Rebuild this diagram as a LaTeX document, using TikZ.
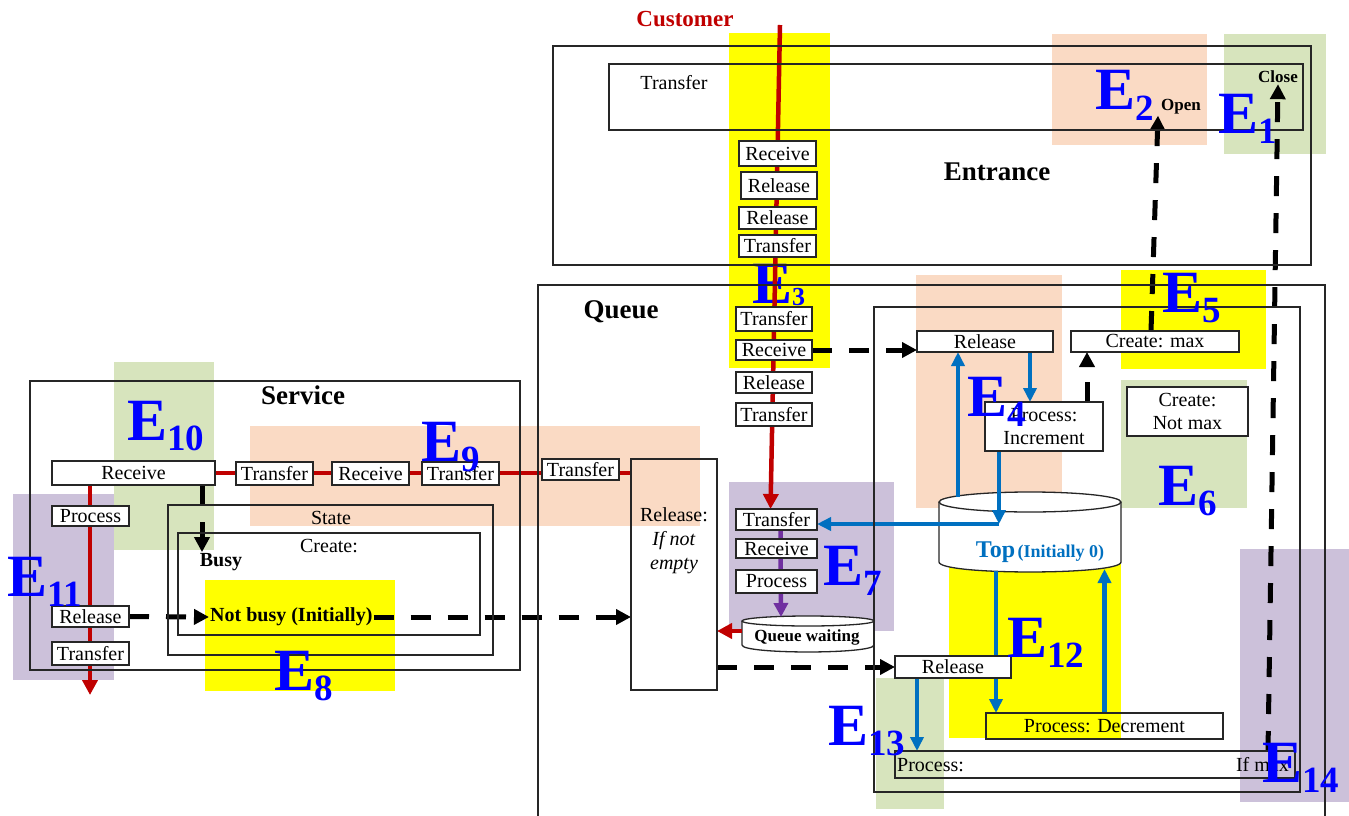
\documentclass[tikz,border=0pt]{standalone}
\usepackage{fontspec}
\setmainfont{Liberation Serif}
\usetikzlibrary{arrows.meta,fit,calc}
\pgfdeclarelayer{back}
\pgfdeclarelayer{mid}
\pgfsetlayers{back,mid,main}
\definecolor{peach}{RGB}{250,218,196}
\definecolor{lgreen}{RGB}{215,228,189}
\definecolor{lpurple}{RGB}{204,193,218}
\definecolor{lyellow}{RGB}{255,255,0}
\definecolor{lred}{RGB}{192,0,0}
\definecolor{lblue}{RGB}{0,112,192}
\definecolor{lpurp}{RGB}{112,48,160}
\definecolor{eblue}{RGB}{0,0,255}
\newcommand{\Elab}[1]{{\fontsize{60}{60}\selectfont E}\raisebox{-10pt}{\fontsize{37}{37}\selectfont #1}}
% box node from its corners: [style]{name}{x1}{y1}{x2}{y2}{text}
\newcommand{\bxn}[7][bx]{\node[#1, minimum width={(#5-#3)*1pt}, minimum height={(#6-#4)*1pt}] (#2) at ({(#3+#5)/2},{(#4+#6)/2}) {#7};}
\tikzset{
  bx/.style={draw=black!85, line width=1.3pt, fill=white, inner sep=0pt, outer sep=0pt, align=center, font=\fontsize{20}{23}\selectfont},
  cont/.style={draw=black!85, line width=1.3pt, inner sep=0pt, outer sep=0pt, align=center, font=\fontsize{20}{23}\selectfont},
  txt/.style={inner sep=1pt, font=\fontsize{20}{23}\selectfont},
  btxt/.style={inner sep=1pt, font=\bfseries\fontsize{27}{29}\selectfont},
  stxt/.style={inner sep=1pt, font=\bfseries\fontsize{17}{19}\selectfont},
  mtxt/.style={inner sep=1pt, font=\bfseries\fontsize{20}{22}\selectfont},
  cyl/.style={draw=black!85, line width=1.3pt},
  redarr/.style={draw=lred, line width=4.5pt, -{Triangle[length=15pt,width=15pt]}},
  bluearr/.style={draw=lblue, line width=4.5pt, -{Triangle[length=14pt,width=13pt]}},
  purarr/.style={draw=lpurp, line width=4.5pt, -{Triangle[length=14pt,width=14pt]}},
  dasharr/.style={draw=black, line width=5pt, dash pattern=on 20pt off 17pt, -{Triangle[length=15pt,width=15pt]}},
  elab/.style={text=eblue, inner sep=0pt, anchor=base west, font=\bfseries},
}
\begin{document}
\begin{tikzpicture}[x=1pt,y=-1pt]
\useasboundingbox (0,0) rectangle (1349,816);
% ---------- coloured event regions ----------
\begin{pgfonlayer}{back}
\fill[peach] (1052,34) rectangle (1207,145);
\fill[peach] (916,275) rectangle (1062,508);
\fill[peach] (250,426) rectangle (700,526);
\fill[lgreen] (1224,34) rectangle (1326,154);
\fill[lgreen] (1121,380) rectangle (1247,508);
\fill[lgreen] (114,362) rectangle (214,550);
\fill[lgreen] (876,678) rectangle (944,809);
\fill[lyellow] (729,33) rectangle (830,368);
\fill[lyellow] (1121,270) rectangle (1266,369);
\fill[lyellow] (205,580) rectangle (395,691);
\fill[lyellow] (949,555) rectangle (1121,738);
\fill[lpurple] (729,482) rectangle (894,631);
\fill[lpurple] (13,494) rectangle (114,680);
\fill[lpurple] (1240,549) rectangle (1349,802);
\end{pgfonlayer}
% ---------- cylinders and the E3 label (under the lines) ----------
\begin{pgfonlayer}{mid}
\fill[white] (939,502) -- (939,562) .. controls (939,575.3) and (1121,575.3) .. (1121,562) -- (1121,502) -- cycle;
\draw[cyl] (939,502) -- (939,562) .. controls (939,575.3) and (1121,575.3) .. (1121,562) -- (1121,502);
\draw[cyl, fill=white] (1030,502) ellipse [x radius=91pt, y radius=10pt];
\fill[white] (742,621) -- (742,645) .. controls (742,654.3) and (874,654.3) .. (874,645) -- (874,621) -- cycle;
\draw[cyl] (742,621) -- (742,645) .. controls (742,654.3) and (874,654.3) .. (874,645) -- (874,621);
\draw[cyl, fill=white] (808,621) ellipse [x radius=66pt, y radius=5pt];
\node[elab] (E3) at (752,303) {{\fontsize{60}{60}\selectfont E}\raisebox{-2pt}{\fontsize{26}{26}\selectfont 3}};
\end{pgfonlayer}
\coordinate (topA) at (958,497);
\coordinate (topB) at (999,524);
\coordinate (topC) at (996,571);
\coordinate (topD) at (1104,569);
\coordinate (qwL) at (742,631);
\coordinate (qwT) at (781,617);
\coordinate (custs) at (780,25);
\coordinate (sout) at (90,695);
\node[inner sep=0pt, font=\bfseries, text=lblue] (toptxt) at (1040,552) {{\fontsize{24}{26}\selectfont Top} {\fontsize{18}{20}\selectfont (Initially 0)}};
\node[stxt] (qwt) at (807,637) {Queue waiting};
% ---------- Entrance ----------
\bxn[cont]{entr}{553}{46}{1311}{265}{}
\bxn[cont]{entrin}{609}{64}{1303}{130}{}
\node[btxt] (entrl) at (997,172) {Entrance};
\node[txt] (ttop) at (674,83) {Transfer};
\node[stxt] (open) at (1181,107) {Open};
\node[stxt] (close) at (1278,77) {Close};
\node[inner sep=1pt, text=lred, font=\bfseries\fontsize{23}{25}\selectfont] (cust) at (685,19) {Customer};
\bxn{a1}{739}{141}{816}{166}{Receive}
\bxn{a2}{741}{172}{817}{199}{Release}
\bxn{a3}{739}{207}{816}{229}{Release}
\bxn{a4}{739}{235}{816}{257}{Transfer}
% ---------- Queue ----------
\bxn[cont]{queue}{538}{285}{1325}{840}{}
\node[btxt] (queuel) at (621,312) {Queue};
\bxn{a5}{736}{307}{812}{331}{Transfer}
\bxn{a6}{736}{340}{812}{360}{Receive}
\bxn{a7}{736}{372}{812}{393}{Release}
\bxn{a8}{736}{403}{812}{426}{Transfer}
\bxn[cont]{qin}{874}{307}{1300}{792}{}
\bxn{rel4}{917}{331}{1053}{352}{Release}
\bxn{cmax}{1071}{331}{1239}{352}{Create: max}
\bxn{cnot}{1127}{387}{1248}{436}{Create:\\Not max}
\bxn{pinc}{985}{402}{1103}{451}{Process:\\Increment}
\bxn[cont]{pdec}{986}{713}{1223}{739}{Process: Decrement}
\bxn{rel13}{895}{656}{1011}{678}{Release}
\bxn[cont]{pmax}{895}{751}{1295}{778}{}
\node[txt, anchor=west] (pmaxa) at (896,765) {Process:};
\node[txt, anchor=east] (pmaxb) at (1290,765) {If max};
\bxn{t7}{736}{509}{817}{530}{Transfer}
\bxn{r7}{736}{539}{817}{558}{Receive}
\bxn{p7}{736}{570}{817}{593}{Process}
\bxn[cont]{relq}{631}{459}{717}{690}{}
\node[txt, align=center, font=\fontsize{20}{24}\selectfont] (relqt) at (674,541) {Release:\\\textit{If not}\\\textit{empty}};
% ---------- Service ----------
\bxn[cont]{serv}{30}{381}{520}{670}{}
\node[btxt] (servl) at (303,395) {Service};
\bxn{srec}{52}{461}{215}{485}{Receive}
\bxn{st1}{236}{462}{313}{485}{Transfer}
\bxn{sr2}{332}{462}{409}{485}{Receive}
\bxn{st3}{422}{462}{499}{485}{Transfer}
\bxn{qt}{542}{459}{619}{480}{Transfer}
\bxn{sproc}{52}{506}{129}{526}{Process}
\bxn{srel}{52}{606}{129}{627}{Release}
\bxn{strn}{52}{642}{129}{665}{Transfer}
\bxn[cont]{state}{168}{505}{493}{655}{}
\node[txt] (statel) at (331,518) {State};
\bxn[cont]{create}{178}{533}{480}{635}{}
\node[txt] (createl) at (329,546) {Create:};
\node[mtxt] (busy) at (221,562) {Busy};
\node[mtxt, anchor=west] (notbusy) at (209,617) {Not busy (Initially)};
% ---------- connectors ----------
\begin{pgfonlayer}{mid}
\draw[redarr] (custs) -- ([xshift=-6pt]t7.north);
\draw[redarr] (qwL) -- (qwL -| relq.east);
\draw[draw=lred, line width=4.5pt] (srec.east) -- (srec.east -| relq.west);
\draw[redarr] ([xshift=38pt]srec.south west) -- (sout);
\draw[purarr] ([xshift=4pt]t7.south) -- (qwT);
\draw[dasharr] (a6.east) -- (a6.east -| rel4.west);
\draw[dasharr] ([xshift=-16pt]pinc.north east) -- ([xshift=-16pt]pinc.north east |- cmax.south);
\draw[dasharr] ([xshift=-4pt]cmax.north) -- ([xshift=-23pt]open.south);
\draw[dasharr] ([xshift=-27pt]pmax.north east) -- (close.south);
\draw[dasharr] (srel.east) -- (notbusy.west);
\draw[dasharr] (notbusy.east) -- (notbusy.east -| relq.west);
\draw[dasharr] ([xshift=-13pt]srec.south east) -- ([xshift=-13pt]srec.south east |- busy.north);
\draw[dasharr] (rel13.west -| relq.east) -- (rel13.west);
\draw[bluearr] (topA) -- (topA |- rel4.south);
\draw[bluearr] ([xshift=45pt]rel4.south) -- ([xshift=45pt]rel4.south |- pinc.north);
\draw[bluearr] ([xshift=-45pt]pinc.south) -- (topB);
\draw[bluearr] (topB) -- (topB -| t7.east);
\draw[bluearr] (topC) -- (topC |- pdec.north);
\draw[bluearr] (pdec.north) -- (pdec.north |- topD);
\draw[bluearr] ([xshift=-36pt]rel13.south) -- ([xshift=-36pt]rel13.south |- pmax.north);
\end{pgfonlayer}
% ---------- event labels ----------
\node[elab] (E1) at (1218,133) {\Elab{1}};
\node[elab] (E2) at (1095,110) {\Elab{2}};
\node[elab] (E4) at (967,416) {\Elab{4}};
\node[elab] (E5) at (1162,312) {\Elab{5}};
\node[elab] (E6) at (1158,505) {\Elab{6}};
\node[elab] (E7) at (823,585) {\Elab{7}};
\node[elab] (E8) at (274,690) {\Elab{8}};
\node[elab] (E9) at (421,461) {\Elab{9}};
\node[elab] (E10) at (127,440) {\Elab{10}};
\node[elab] (E11) at (7,596) {\Elab{11}};
\node[elab] (E12) at (1007,657) {\Elab{12}};
\node[elab] (E13) at (828,745) {\Elab{13}};
\node[elab] (E14) at (1262,782) {\Elab{14}};
\end{tikzpicture}
\end{document}
